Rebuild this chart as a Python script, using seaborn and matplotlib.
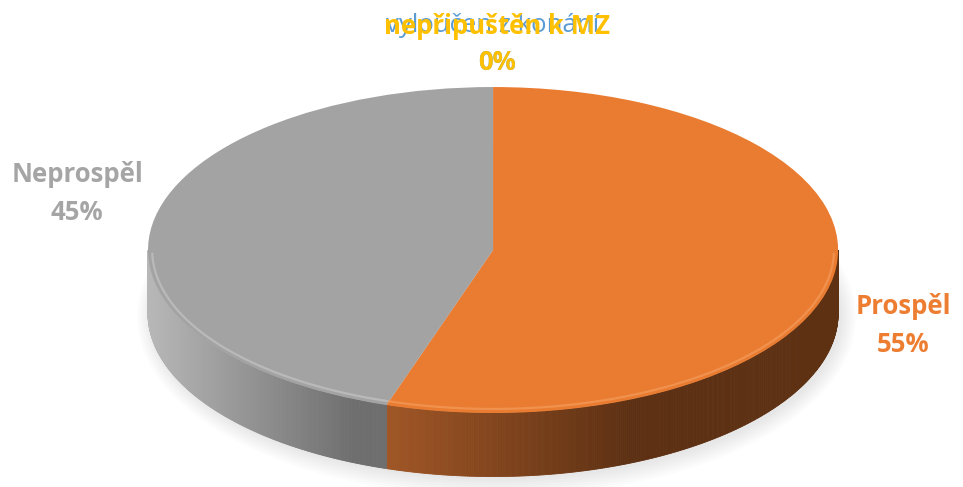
import numpy as np
import matplotlib
matplotlib.use("Agg")
import matplotlib.pyplot as plt
import seaborn as sns
from matplotlib.patches import Polygon, Ellipse
from matplotlib.colors import to_rgb

# ---- data ----
categories = ["vyloučen z konání", "Prospěl", "Neprospěl", "nepřipuštěn k MZ"]
values = [0, 55, 45, 0]
pct_labels = ["0%", "55%", "45%", "0%"]
top_colors = ["#5B9BD5", "#E97C31", "#A3A3A3", "#FFC000"]
label_colors = ["#5B9BD5", "#ED7D31", "#A5A5A5", "#FFC000"]

sns.set_theme(style="white")
plt.rcParams['font.family'] = ['Open Sans', 'DejaVu Sans']

fig = plt.figure(figsize=(9.63, 4.87), dpi=100)
ax = fig.add_axes([0, 0, 1, 1])

H = 0.39  # thickness of the 3D disc (axis units)

wedges, _ = ax.pie(values, colors=top_colors, startangle=90, counterclock=False,
                   radius=1, center=(0, 0), wedgeprops=dict(linewidth=0, zorder=3))

# side gradients (by x position): (x0, color0) -> (x1, color1)
side_grad = {
    "Prospěl": [(-0.40, "#A95B28"), (0.40, "#5D3013"), (1.0, "#5E3113")],
    "Neprospěl": [(-1.0, "#B8B8B8"), (-0.40, "#6E6E6E")],
}
rim_colors = {"Prospěl": "#F5A062", "Neprospěl": "#C9C9C9"}


def grad_color(stops, x):
    xs = [s[0] for s in stops]
    cs = np.array([to_rgb(s[1]) for s in stops])
    return tuple(np.interp(x, xs, cs[:, i]) for i in range(3))


# soft shadow
for k in range(8):
    ax.add_patch(Ellipse((0.01, -H - 0.02), 2.0 + 0.012 * k, 2.0 + 0.03 * k,
                         facecolor="#000000", alpha=0.012, edgecolor="none", zorder=0))

for w, cat in zip(wedges, categories):
    if cat not in side_grad:
        continue
    t1, t2 = w.theta1, w.theta2
    lo, hi = t1, t2
    while hi > 0:
        lo -= 360
        hi -= 360
    while hi <= -360:
        lo += 360
        hi += 360
    a = max(lo, -180)
    b = min(hi, 0)
    if b <= a:
        lo += 360; hi += 360
        a = max(lo, -180); b = min(hi, 0)
    if b <= a:
        continue
    ts = np.linspace(a, b, 300)
    for i in range(len(ts) - 1):
        ta = np.radians(ts[i]); tb = np.radians(ts[i + 1])
        xa, ya = np.cos(ta), np.sin(ta)
        xb, yb = np.cos(tb), np.sin(tb)
        col = grad_color(side_grad[cat], 0.5 * (xa + xb))
        ax.add_patch(Polygon([(xa, ya), (xb, yb), (xb, yb - H), (xa, ya - H)],
                             closed=True, facecolor=col, edgecolor=col,
                             linewidth=0.6, zorder=2))
    # bevel highlight on the top rim
    tt = np.radians(np.linspace(max(a, -179), min(b, -1), 200))
    ax.plot(0.988 * np.cos(tt), 0.975 * np.sin(tt), color=rim_colors[cat],
            lw=1.6, alpha=0.6, zorder=4, solid_capstyle="butt")

ax.set_aspect('auto')
ax.set_xlim(-1.429, 1.362)
ax.set_ylim(-1.454, 1.534)
ax.axis('off')

# labels (positions in figure pixels)
W, Hpx = 963, 487
label_pos = {
    "vyloučen z konání": (493, 25, 62),
    "Prospěl": (903, 307, 344),
    "Neprospěl": (77, 175, 212),
    "nepřipuštěn k MZ": (497, 27, 62),
}
label_weight = {
    "vyloučen z konání": "normal",
    "Prospěl": "bold",
    "Neprospěl": "bold",
    "nepřipuštěn k MZ": "bold",
}
for cat, pct, lc in zip(categories, pct_labels, label_colors):
    x, y1, y2 = label_pos[cat]
    fw = label_weight[cat]
    fig.text(x / W, 1 - y1 / Hpx, cat, color=lc, fontsize=18.5, fontweight=fw,
             ha='center', va='center')
    fig.text(497 / W if y2 == 62 else x / W, 1 - y2 / Hpx, pct, color=lc,
             fontsize=18.5, fontweight='bold', ha='center', va='center')

fig.savefig("out.png", dpi=100)
